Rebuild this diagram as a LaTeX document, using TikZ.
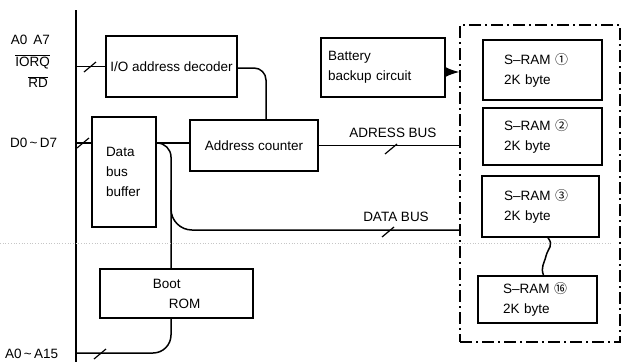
\documentclass[tikz,border=0pt]{standalone}
\usepackage{fontspec}
\setmainfont{Liberation Sans}
\newfontfamily\circfont{Noto Sans CJK SC}
\usepackage{tikz}
\usetikzlibrary{arrows.meta,positioning,calc}

\tikzset{
  blk/.style={draw, rectangle, line width=1.5pt, inner sep=0pt, align=left},
  wire/.style={line width=1.5pt},
  lbl/.style={inner sep=0pt},
}
\newcommand{\busmark}[1]{\draw[line width=1.2pt] ([shift={(-6pt,-5pt)}]#1) -- ([shift={(6pt,5pt)}]#1);}
\newcommand{\ovl}[1]{$\overline{\hbox{#1}}$}
\newcommand{\cn}[1]{{\circfont\fontsize{13}{14}\selectfont #1}}

\begin{document}
\begin{tikzpicture}[x=1pt, y=-1pt, font=\fontsize{13.5}{20}\selectfont]
    \useasboundingbox (0,0) rectangle (623,362);

    % blocks
    \node [blk, minimum width=131, minimum height=61] (dec) at (171.5,66.5) {I/O address decoder};
    \node [blk, minimum width=64, minimum height=110, text width=36] (buf) at (124,172) {Data\\bus\\buffer};
    \node [blk, minimum width=128, minimum height=51, align=center] (cnt) at (254,145.5) {Address counter};
    \node [blk, minimum width=153, minimum height=49] (rom) at (176.5,293.5) {Boot\\\hspace*{16pt}ROM};
    \node [blk, minimum width=124, minimum height=59, text width=110] (bat) at (383,67.5) {Battery\\backup circuit};

    % memory area
    \node [draw, rectangle, line width=1.2pt, dash pattern=on 12pt off 4pt on 2pt off 4pt,
           minimum width=160, minimum height=317] (ram) at (540,183.5) {};
    \node [blk, minimum width=119, minimum height=60, text width=77] (ram1) at (542.5,70) {S–RAM \cn{①}\\2K byte};
    \node [blk, minimum width=119, minimum height=57, text width=77] (ram2) at (542.5,136.5) {S–RAM \cn{②}\\2K byte};
    \node [blk, minimum width=117, minimum height=61, text width=73] (ram3) at (540.5,206.5) {S–RAM \cn{③}\\2K byte};
    \node [blk, minimum width=119, minimum height=47, text width=69] (ram16) at (537.5,299.5) {S–RAM \cn{⑯}\\2K byte};

    % signal names
    \node [lbl, anchor=east] (a07) at (50,40) {A0\, A7};
    \node [lbl, anchor=east] (iorq) at (50,62) {\ovl{IORQ}};
    \node [lbl, anchor=east] (rd) at (48,82) {\ovl{RD}};
    \node [lbl, anchor=west] (d07) at (10,143) {D0\,\char`~\,D7};
    \node [lbl, anchor=west] (a015) at (5,354) {A0\,\char`~\,A15};
    \node [lbl] (abus) at (393,133) {ADRESS BUS};
    \node [lbl] (dbus) at (396,217) {DATA BUS};

    % bus line and taps
    \coordinate (bustop) at (76,10);
    \coordinate (busbot) at (76,362);
    \coordinate (ioin) at (76,66.5);
    \coordinate (din) at (76,143);
    \coordinate (ain) at (76,353);
    \coordinate (dtap) at (171,190);
    \coordinate (dend) at (460,230);
    \draw[wire] (bustop) -- (busbot);

    % connectors
    \draw[wire] (ioin) -- (dec.west);
    \draw[wire] (din) -- (din -| buf.west);
    \draw[wire] (buf.east |- din) -- (din -| cnt.west);
    \draw[wire, rounded corners=12pt] ([yshift=-1.5pt]dec.east) -| ([xshift=12pt]cnt.north);
    \draw[wire, rounded corners=14pt] (buf.east |- din) -| ([xshift=-5.5pt]rom.north);
    \draw[wire, rounded corners=21pt] (dtap) |- (dend);
    \draw[wire] (cnt.east) -- (cnt.east -| ram.west);
    \draw[wire, -{Latex[length=14pt,width=10pt]}] ([yshift=-4.5pt]bat.east) -- ([yshift=-4.5pt]bat.east -| ram.west);
    \draw[wire, rounded corners=18pt] ([xshift=-5.5pt]rom.south) |- (ain);
    \draw[wire] ([xshift=7.5pt]ram3.south) .. controls +(6,8) and +(2,-8) .. (546,256)
                .. controls +(-2,8) and +(-3,-8) .. ([xshift=6pt]ram16.north);

    % bus width marks
    \coordinate (m1) at (90,67);
    \coordinate (m2) at (83,143);
    \coordinate (m3) at (391,149);
    \coordinate (m4) at (388,232);
    \coordinate (m5) at (100,354);
    \foreach \m in {m1,m2,m3,m4,m5} { \busmark{\m} }

    % faint fold line
    \draw[gray!45, dotted, line width=0.7pt] (0,243) -- (612,243);
\end{tikzpicture}
\end{document}
